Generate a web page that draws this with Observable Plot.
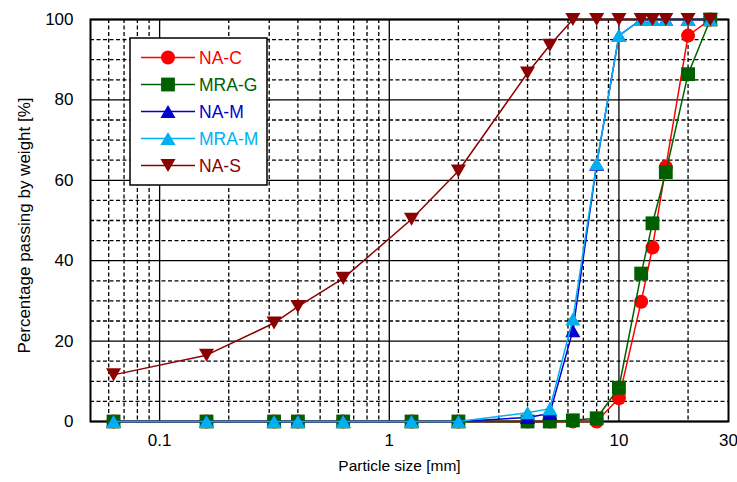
<!DOCTYPE html>
<html>
<head>
<meta charset="utf-8">
<script src="https://cdn.jsdelivr.net/npm/d3@7"></script>
<script src="https://cdn.jsdelivr.net/npm/@observablehq/plot@0.6"></script>
<style>
  html, body { margin: 0; padding: 0; background: white; }
  #chart { width: 737px; height: 482px; }
</style>
</head>
<body>
<div id="chart"></div>
<script>
// ---- data ----
const sieveSizes = [0.063, 0.16, 0.315, 0.4, 0.63, 1.25, 2, 4, 5, 6.3, 8, 10, 12.5, 14, 16, 20, 25];
const seriesNames = ["NA-C", "MRA-G", "NA-M", "MRA-M", "NA-S"];
const naC   = [0, 0, 0, 0, 0, 0, 0, 0, 0, 0, 0, 5.8, 29.8, 43.3, 63.3, 96, 100];
const mraG  = [0, 0, 0, 0, 0, 0, 0, 0, 0, 0.3, 0.8, 8.4, 36.8, 49.3, 62, 86.4, 100];
const naM   = [0, 0, 0, 0, 0, 0, 0, 1, 2, 22.6, 64, 96, 100, 100, 100, 100, 100];
const mraM  = [0, 0, 0, 0, 0, 0, 0, 2.2, 3.2, 25.5, 64.2, 96, 100, 100, 100, 100, 100];
const naS   = [11.6, 16.5, 24.5, 28.6, 35.6, 50.3, 62.3, 86.7, 93.6, 100, 100, 100, 100, 100, 100, 100, 100];
const seriesValues = [naC, mraG, naM, mraM, naS];
const seriesColors = ["#ff0000", "#006000", "#0000d0", "#00b0f0", "#8b0000"];

const xTickValues = [0.1, 1, 10, 30];
const xTickLabels = ["0.1", "1", "10", "30"];
const xMajorGrid = [0.1, 1, 10];
const xMinorGrid = [0.06, 0.07, 0.08, 0.09, 0.2, 0.3, 0.4, 0.5, 0.6, 0.7, 0.8, 0.9, 2, 3, 4, 5, 6, 7, 8, 9, 20];
const yTickValues = [0, 20, 40, 60, 80, 100];
const yMinorGrid = [5, 10, 15, 25, 30, 35, 45, 50, 55, 65, 70, 75, 85, 90, 95];
const xLabel = "Particle size [mm]";
const yLabel = "Percentage passing by weight [%]";

// ---- symbols (bbox-centred triangles like the original) ----
const triUp = {
  draw(ctx, size) {
    const s = Math.sqrt(4 * size / Math.sqrt(3)), h = s * Math.sqrt(3) / 2;
    ctx.moveTo(0, -h / 2); ctx.lineTo(s / 2, h / 2); ctx.lineTo(-s / 2, h / 2); ctx.closePath();
  }
};
const triDown = {
  draw(ctx, size) {
    const s = Math.sqrt(4 * size / Math.sqrt(3)), h = s * Math.sqrt(3) / 2;
    ctx.moveTo(0, h / 2); ctx.lineTo(s / 2, -h / 2); ctx.lineTo(-s / 2, -h / 2); ctx.closePath();
  }
};
const seriesSymbols = ["circle", "square", triUp, triUp, triDown];
const seriesR = [7, 7.8, 5.6, 5.6, 5.6];

const tables = seriesNames.map((name, i) =>
  sieveSizes.map((x, j) => ({ series: name, x, y: seriesValues[i][j] })));

const dataMarks = [];
tables.forEach((t, i) => {
  dataMarks.push(Plot.line(t, { x: "x", y: "y", stroke: seriesColors[i], strokeWidth: 1.5 }));
  dataMarks.push(Plot.dot(t, { x: "x", y: "y", fill: seriesColors[i], stroke: "none",
    symbol: seriesSymbols[i], r: seriesR[i] }));
});

const plot = Plot.plot({
  width: 737,
  height: 482,
  marginLeft: 90,
  marginRight: 9,
  marginTop: 19,
  marginBottom: 61,
  style: { fontFamily: "'Liberation Sans', Arial, sans-serif", fontSize: "17px", color: "black", background: "white" },
  x: { type: "log", domain: [0.05, 30] },
  y: { domain: [0, 100] },
  marks: [
    Plot.ruleX(xMinorGrid, { stroke: "black", strokeWidth: 1.3, strokeDasharray: "4,2.5" }),
    Plot.ruleY(yMinorGrid, { stroke: "black", strokeWidth: 1.3, strokeDasharray: "4,2.5" }),
    Plot.ruleX(xMajorGrid, { stroke: "black", strokeWidth: 1.3 }),
    Plot.ruleY(yTickValues, { stroke: "black", strokeWidth: 1.3 }),
    Plot.frame({ stroke: "black", strokeWidth: 2 }),
    Plot.axisX({ ticks: xTickValues, tickFormat: (d) => xTickLabels[xTickValues.indexOf(d)], tickSize: 0, tickPadding: 12, label: null, fontSize: 17 }),
    Plot.axisY({ ticks: yTickValues, tickSize: 0, tickPadding: 17, label: null, fontSize: 17 }),
    Plot.text([xLabel], { frameAnchor: "bottom", dy: 49, dx: -10, text: (d) => d, fontSize: 15.5, textAnchor: "middle" }),
    Plot.text([yLabel], { frameAnchor: "left", dx: -66, dy: 5, rotate: -90, text: (d) => d, fontSize: 17, textAnchor: "middle" }),
    ...dataMarks
  ]
});

document.getElementById("chart").appendChild(plot);

// ---- legend ----
const svg = d3.select(plot);
const lg = svg.append("g").attr("font-family", "'Liberation Sans', Arial, sans-serif").attr("font-size", 17.5)
  .attr("text-anchor", "start");
lg.append("rect").attr("x", 130).attr("y", 38).attr("width", 137).attr("height", 147)
  .attr("fill", "white").attr("stroke", "black").attr("stroke-width", 1.5);
seriesNames.forEach((name, i) => {
  const cy = 57.5 + i * 27;
  lg.append("line").attr("x1", 141).attr("x2", 195).attr("y1", cy).attr("y2", cy)
    .attr("stroke", seriesColors[i]).attr("stroke-width", 1.5);
  const sym = seriesSymbols[i];
  const symType = sym === "circle" ? d3.symbolCircle : sym === "square" ? d3.symbolSquare : sym;
  lg.append("path").attr("transform", `translate(168,${cy})`)
    .attr("d", d3.symbol(symType, Math.PI * seriesR[i] * seriesR[i])())
    .attr("fill", seriesColors[i]);
  lg.append("text").attr("x", 199).attr("y", cy).attr("dy", "0.36em")
    .attr("text-anchor", "start")
    .attr("fill", seriesColors[i]).text(name);
});
</script>
</body>
</html>
